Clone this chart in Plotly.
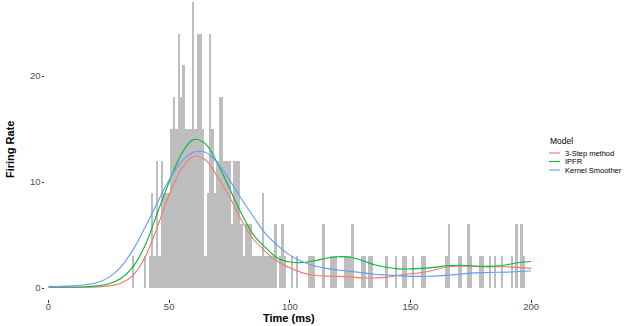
import plotly.graph_objects as go

# ---- histogram (1 ms bins), firing rate values ----
hist_time = [35, 40, 42, 43, 44, 45, 46, 47, 48, 49, 50,
             51, 52, 53, 54, 55, 56, 57, 58, 59, 60,
             61, 62, 63, 64, 65, 66, 67, 68, 69, 70,
             71, 72, 73, 74, 75, 76, 77, 78, 79, 80,
             81, 82, 83, 84, 85, 86, 87, 88, 89, 90,
             91, 92, 93, 94, 96, 97, 98, 101, 103, 108,
             109, 110, 114, 117, 118, 119, 123, 124, 125, 126,
             130, 131, 133, 134, 140, 144, 147, 148, 151, 155,
             156, 165, 166, 170, 171, 174, 175, 179, 180, 183,
             185, 188, 192, 194, 196, 197]
hist_rate = [3, 3, 3, 9, 3, 12, 3, 12, 9, 9, 9,
             15, 18, 15, 24, 18, 21, 15, 15, 15, 27,
             15, 24, 24, 15, 3, 9, 24, 15, 9, 12,
             18, 18, 12, 12, 12, 6, 12, 12, 12, 6,
             3, 6, 6, 6, 3, 3, 3, 3, 9, 3,
             3, 3, 3, 6, 3, 6, 3, 3, 3, 3,
             3, 3, 6, 3, 3, 3, 3, 3, 3, 6,
             3, 3, 3, 3, 3, 3, 3, 3, 3, 3,
             3, 3, 6, 3, 3, 6, 3, 3, 3, 3,
             3, 3, 3, 6, 6, 3]

# ---- fitted curves ----
curve_time = list(range(0, 201, 5))
three_step = [0.05, 0.05, 0.05, 0.07, 0.1, 0.2, 0.45, 1.2, 2.9, 5.7, 8.8,
              11.2, 12.4, 12.1, 10.5, 8.6, 6.4, 4.6, 3.4, 2.5, 1.9,
              1.45, 1.2, 1.12, 1.1, 1.05, 0.95, 0.95, 1.0, 1.2, 1.35,
              1.45, 1.7, 2.0, 2.05, 2.05, 2.0, 2.0, 2.0, 1.95, 1.85]
ipfr = [0.1, 0.1, 0.1, 0.12, 0.2, 0.4, 0.9, 2.0, 4.0, 7.0, 10.0,
        12.6, 14.0, 13.6, 11.8, 9.4, 7.0, 5.0, 3.8, 2.8, 2.45,
        2.4, 2.55, 2.8, 2.95, 2.9, 2.6, 2.2, 1.95, 1.8, 1.8,
        1.85, 1.95, 2.1, 2.15, 2.1, 2.05, 2.05, 2.2, 2.4, 2.5]
kernel = [0.15, 0.15, 0.2, 0.3, 0.5, 1.0, 2.0, 3.6, 5.7, 8.0, 10.2,
          11.9, 12.8, 12.8, 11.8, 10.2, 8.4, 6.7, 5.1, 4.0, 3.1,
          2.5, 2.1, 1.85, 1.7, 1.57, 1.45, 1.3, 1.22, 1.15, 1.1,
          1.1, 1.12, 1.2, 1.3, 1.4, 1.45, 1.48, 1.5, 1.55, 1.6]

models = ["3-Step method", "IPFR", "Kernel Smoother"]
colors = ["#F8766D", "#00BA38", "#619CFF"]
series = [three_step, ipfr, kernel]

x_ticks = [0, 50, 100, 150, 200]
y_ticks = [0, 10, 20]

FONT = "Liberation Sans, Arial, sans-serif"

fig = go.Figure()
fig.add_trace(go.Bar(x=hist_time, y=hist_rate, width=1,
                     marker=dict(color="#BEBEBE", line=dict(width=0)),
                     showlegend=False))
for name, col, vals in zip(models, colors, series):
    fig.add_trace(go.Scatter(x=curve_time, y=vals, mode="lines", name=name,
                             line=dict(color=col, width=1.1, shape="spline", smoothing=1.0),
                             showlegend=False))

L, R, T, B = 45, 92, 0, 27
W, H = 630, 326
pw, ph = W - L - R, H - T - B

def px_x(p):
    return (p - L) / pw

def px_y(p):
    return (H - B - p) / ph

ann = [
    dict(text="<b>Time (ms)</b>", x=px_x(289), y=px_y(318), xref="paper", yref="paper",
         xanchor="center", yanchor="middle",
         showarrow=False, font=dict(size=11, color="black", family=FONT)),
    dict(text="<b>Firing Rate</b>", x=px_x(10), y=px_y(150), xref="paper", yref="paper",
         xanchor="center", yanchor="middle",
         showarrow=False, textangle=-90, font=dict(size=11, color="black", family=FONT)),
    dict(text="Model", x=px_x(548), y=px_y(141), xref="paper", yref="paper",
         xanchor="left", yanchor="middle",
         showarrow=False, font=dict(size=8.5, color="black", family=FONT)),
]
shapes = []
for i, (name, col) in enumerate(zip(models, colors)):
    yy = [153, 161.5, 170][i]
    ann.append(dict(text=name, x=px_x(563), y=px_y(yy), xref="paper", yref="paper",
                    xanchor="left", yanchor="middle", showarrow=False,
                    font=dict(size=7.5, color="black", family=FONT)))
    shapes.append(dict(type="line", xref="paper", yref="paper",
                       x0=px_x(549), x1=px_x(560), y0=px_y(yy), y1=px_y(yy),
                       line=dict(color=col, width=1.1)))

fig.update_layout(
    width=W, height=H,
    margin=dict(l=L, r=R, t=T, b=B),
    paper_bgcolor="white", plot_bgcolor="white",
    bargap=0,
    showlegend=False,
    annotations=ann, shapes=shapes,
    font=dict(family=FONT),
    xaxis=dict(range=[(L - 48.5) / 2.413, (W - R - 48.5) / 2.413],
               tickvals=x_ticks, ticktext=[str(v) for v in x_ticks],
               showgrid=False, zeroline=False, showline=False,
               ticks="outside", ticklen=2.5, tickcolor="#333333", tickwidth=0.6,
               ticklabelstandoff=-4,
               tickfont=dict(size=9.5, color="#4D4D4D", family=FONT)),
    yaxis=dict(range=[-(H - B - 288) / 10.6, 288 / 10.6],
               tickvals=y_ticks, ticktext=[str(v) for v in y_ticks],
               showgrid=False, zeroline=False, showline=False,
               ticks="outside", ticklen=2.5, tickcolor="#333333", tickwidth=0.6,
               ticklabelstandoff=-1,
               tickfont=dict(size=9.5, color="#4D4D4D", family=FONT)),
)

fig.write_html("out.html")
